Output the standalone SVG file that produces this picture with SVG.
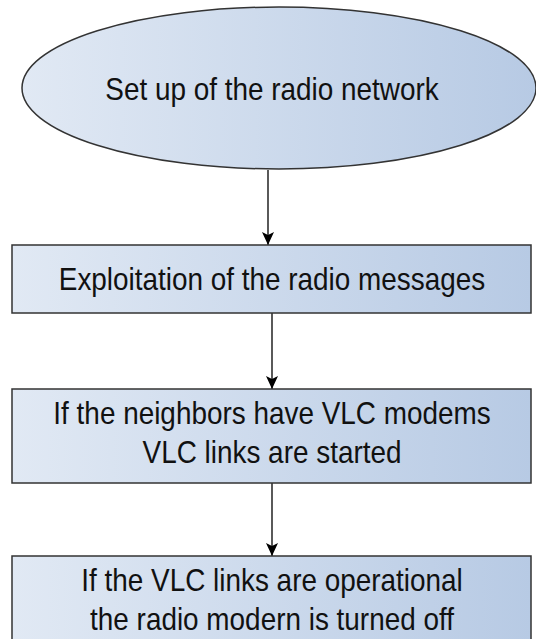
<svg xmlns="http://www.w3.org/2000/svg" width="536" height="639" viewBox="0 0 536 639">
  <defs>
    <linearGradient id="fill" x1="0" y1="0" x2="1" y2="0">
      <stop offset="0" stop-color="#e1e9f4"/>
      <stop offset="1" stop-color="#b7cae4"/>
    </linearGradient>
    <marker id="arrow" markerWidth="12" markerHeight="16" refX="6" refY="15" orient="0" markerUnits="userSpaceOnUse" viewBox="0 0 12 16">
      <path d="M0,2 L6,5 L12,2 L6,15 Z" fill="#000"/>
    </marker>
  </defs>
  <style>
    .shape { fill: url(#fill); stroke: #333; stroke-width: 1.5; }
    .label { font-family: "Liberation Sans", Arial, sans-serif; font-size: 31px; fill: #111; text-anchor: middle; }
    .conn { stroke: #000; stroke-width: 1.3; fill: none; marker-end: url(#arrow); }
  </style>
  <rect width="536" height="639" fill="#fff"/>
  <g id="connectors">
    <line class="conn" x1="268" y1="170" x2="268" y2="245"/>
    <line class="conn" x1="272" y1="313" x2="272" y2="389"/>
    <line class="conn" x1="272" y1="483" x2="272" y2="556"/>
  </g>
  <g id="n1">
    <ellipse class="shape" cx="279" cy="88" rx="257" ry="81"/>
    <text class="label" x="0" y="100" transform="matrix(0.9 0 0 1 272 0)">Set up of the radio network</text>
  </g>
  <g id="n2">
    <rect class="shape" x="12" y="245" width="519" height="68"/>
    <text class="label" x="0" y="290" transform="matrix(0.9 0 0 1 272 0)">Exploitation of the radio messages</text>
  </g>
  <g id="n3">
    <rect class="shape" x="12" y="389" width="519" height="94"/>
    <text class="label" x="0" y="424" transform="matrix(0.9 0 0 1 272 0)">If the neighbors have VLC modems</text>
    <text class="label" x="0" y="463" transform="matrix(0.9 0 0 1 272 0)">VLC links are started</text>
  </g>
  <g id="n4">
    <rect class="shape" x="12" y="556" width="519" height="100"/>
    <text class="label" x="0" y="591" transform="matrix(0.9 0 0 1 272 0)">If the VLC links are operational</text>
    <text class="label" x="0" y="630" transform="matrix(0.9 0 0 1 272 0)">the radio modern is turned off</text>
  </g>
</svg>
